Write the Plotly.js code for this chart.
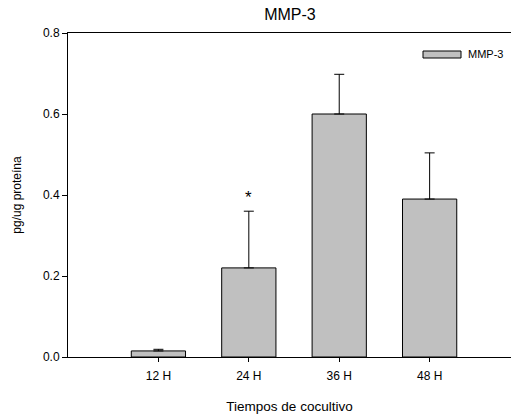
<!DOCTYPE html>
<html><head><meta charset="utf-8">
<script src="https://cdn.plot.ly/plotly-3.0.1.min.js"></script>
<style>html,body{margin:0;padding:0;background:#fff;}</style>
</head><body>
<div id="chart" style="width:511px;height:417px;"></div>
<script>
const categories = ["12 H", "24 H", "36 H", "48 H"];
const values = [0.015, 0.22, 0.60, 0.39];
const errorsUp = [0.004, 0.14, 0.098, 0.114];
const errorsDown = [0, 0, 0, 0];
const seriesName = "MMP-3";
const markText = "*";
const markCategory = "24 H";
const markValue = 0.395;

const font = "Liberation Sans, Arial, sans-serif";
const trace = {
  type: "bar", x: categories, y: values, name: seriesName, showlegend: false,
  width: 0.6,
  marker: {color: "#c0c0c0", line: {color: "#000", width: 1}},
  error_y: {type: "data", symmetric: false, array: errorsUp, arrayminus: errorsDown,
            color: "#000", thickness: 1, width: 5}
};
const layout = {
  width: 511, height: 417,
  margin: {l: 68, r: 0, t: 33, b: 60},
  paper_bgcolor: "#fff", plot_bgcolor: "#fff",
  font: {family: font, size: 12, color: "#000"},
  title: {text: seriesName, font: {family: font, size: 16, color: "#000"}, x: 0.5675, xanchor: "center", y: 0.965, yanchor: "middle"},
  xaxis: {type: "category", range: [-1, 3.9], showline: true, linecolor: "#000", linewidth: 1, mirror: true,
          ticks: "outside", ticklen: 4, tickcolor: "#000", showgrid: false, zeroline: false,
          tickfont: {family: font, size: 12}, ticklabelstandoff: 4,
          title: {text: "Tiempos de cocultivo", font: {family: font, size: 13.5}, standoff: 19}},
  yaxis: {range: [0, 0.8], dtick: 0.2, tickformat: ".1f", showline: true, linecolor: "#000", linewidth: 1,
          ticks: "outside", ticklen: 5, tickcolor: "#000", showgrid: false, zeroline: false,
          tickfont: {family: font, size: 12},
          title: {text: "pg/ug proteína", font: {family: font, size: 12}, standoff: 18}},
  shapes: [{type: "rect", xref: "paper", yref: "paper", x0: (423-68)/443, x1: (461-68)/443,
            y0: (357-58)/324, y1: (357-51)/324, fillcolor: "#c0c0c0", line: {color: "#000", width: 1}}],
  annotations: [
    {xref: "paper", yref: "paper", x: (466-68)/443, y: (357-54.5)/324, xanchor: "left", yanchor: "middle",
     text: seriesName, showarrow: false, font: {family: font, size: 11}},
    {xref: "x", yref: "y", x: markCategory, y: markValue, text: markText, showarrow: false,
     yanchor: "middle", font: {family: font, size: 17}}
  ]
};
Plotly.newPlot("chart", [trace], layout, {displayModeBar: false, staticPlot: true});
</script>
</body></html>
